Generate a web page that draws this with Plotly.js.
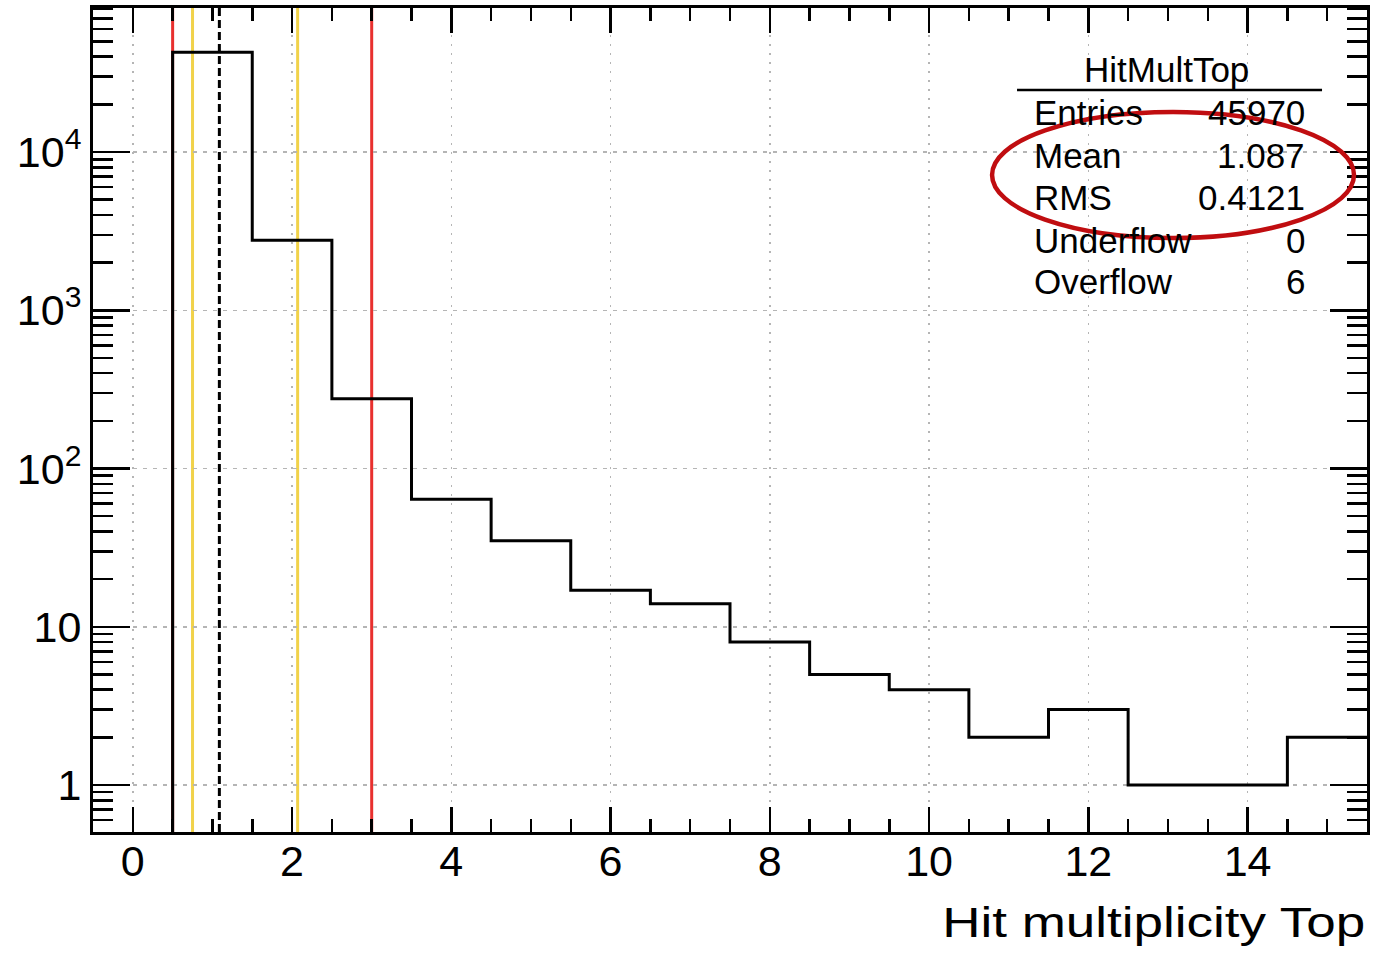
<!DOCTYPE html>
<html>
<head>
<meta charset="utf-8">
<script src="https://cdn.plot.ly/plotly-3.0.1.min.js"></script>
<style>
  html, body { margin: 0; padding: 0; background: #ffffff; }
  #chart { width: 1373px; height: 955px; }
</style>
</head>
<body>
<div id="chart"></div>
<script>
// HitMultTop histogram: bin centres and contents (unit-width bins)
const binCenters = [1, 2, 3, 4, 5, 6, 7, 8, 9, 10, 11, 12, 13, 14, 15];
const binCounts  = [42765, 2770, 276, 64, 35, 17, 14, 8, 5, 4, 2, 3, 1, 1, 2];
const binWidth = 1;

// Statistics box
const statsTitle = "HitMultTop";
const statsLabels = ["Entries", "Mean", "RMS", "Underflow", "Overflow"];
const statsValues = ["45970", "1.087", "0.4121", "0", "6"];

// Vertical marker lines
const redCuts = [0.5, 3.0];
const yellowMarks = [0.75, 2.07];
const meanValue = 1.087;

// Axis ticks
const xTickVals = [0, 2, 4, 6, 8, 10, 12, 14];
const yTickVals = [1, 10, 100, 1000, 10000];
const yTickText = ["1", "10", "10<sup>2</sup>", "10<sup>3</sup>", "10<sup>4</sup>"];
const xTitle = "Hit multiplicity Top";

const FONT = "Liberation Sans, Arial, Helvetica, sans-serif";

// Step outline of the histogram (left edge rises from below the frame)
const stepX = [binCenters[0] - binWidth / 2];
const stepY = [0.01];
binCenters.forEach((c, i) => {
  stepX.push(c - binWidth / 2);
  stepY.push(binCounts[i]);
});
stepX.push(binCenters[binCenters.length - 1] + binWidth / 2);
stepY.push(binCounts[binCounts.length - 1]);

const histTrace = {
  type: "scatter",
  mode: "lines",
  x: stepX,
  y: stepY,
  line: { shape: "hv", color: "#000000", width: 3 },
  hoverinfo: "skip",
  showlegend: false
};

// Minor tick positions
const xMinor = [];
for (let v = -0.5; v <= 15.5; v += 0.5) xMinor.push(v);
const yMinor = [];
for (let e = -1; e <= 4; e++) {
  for (let m = 2; m <= 9; m++) yMinor.push(m * Math.pow(10, e));
}

const shapes = [];
redCuts.forEach(v => shapes.push({
  type: "line", xref: "x", yref: "paper", x0: v, x1: v, y0: 0, y1: 1,
  line: { color: "#e8302e", width: 3 }, layer: "between"
}));
yellowMarks.forEach(v => shapes.push({
  type: "line", xref: "x", yref: "paper", x0: v, x1: v, y0: 0, y1: 1,
  line: { color: "#f1d24a", width: 3 }, layer: "between"
}));
shapes.push({
  type: "line", xref: "x", yref: "paper", x0: meanValue, x1: meanValue, y0: 0, y1: 1,
  line: { color: "#000000", width: 3, dash: "8px,4px" }, layer: "between"
});
// rule under the stats title
shapes.push({
  type: "line", xref: "paper", yref: "paper", x0: 0.7253, x1: 0.9647, y0: 0.9005, y1: 0.9005,
  line: { color: "#000000", width: 2.5 }
});
// highlight ellipse around Mean / RMS
shapes.push({
  type: "circle", xref: "paper", yref: "paper",
  x0: 0.7057, x1: 0.9898, y0: 0.7209, y1: 0.8738,
  line: { color: "#c00d10", width: 4.5 }
});

const STATS_SIZE = 35;
const annotations = [];
annotations.push({
  xref: "paper", yref: "paper", x: 0.843, y: 0.9248, text: statsTitle,
  showarrow: false, xanchor: "center", yanchor: "middle",
  font: { family: FONT, size: STATS_SIZE, color: "#000000" }
});
const rowY = [0.8726, 0.8216, 0.7706, 0.7184, 0.6675];
statsLabels.forEach((lab, i) => {
  annotations.push({
    xref: "paper", yref: "paper", x: 0.737, y: rowY[i], text: lab,
    showarrow: false, xanchor: "left", yanchor: "middle",
    font: { family: FONT, size: STATS_SIZE, color: "#000000" }
  });
  annotations.push({
    xref: "paper", yref: "paper", x: 0.953, y: rowY[i], text: statsValues[i],
    showarrow: false, xanchor: "right", yanchor: "middle",
    font: { family: FONT, size: STATS_SIZE, color: "#000000" }
  });
});
// x-axis title, right-aligned under the frame
const X_TITLE_LEFT = 942, X_TITLE_RIGHT = 1365;
annotations.push({
  xref: "paper", yref: "paper",
  x: ((X_TITLE_LEFT + X_TITLE_RIGHT) / 2 - 93) / 1274, y: -0.1097, text: xTitle,
  showarrow: false, xanchor: "center", yanchor: "middle",
  font: { family: FONT, size: 42, color: "#000000" }
});

const layout = {
  width: 1373,
  height: 955,
  margin: { l: 93, r: 6, t: 8, b: 123 },
  paper_bgcolor: "#ffffff",
  plot_bgcolor: "#ffffff",
  showlegend: false,
  font: { family: FONT, color: "#000000" },
  xaxis: {
    range: [-0.5, 15.5],
    tickmode: "array",
    tickvals: xTickVals,
    ticks: "inside",
    ticklen: 25,
    tickwidth: 2.5,
    tickcolor: "#000000",
    mirror: "ticks",
    showline: true,
    linecolor: "#000000",
    linewidth: 3,
    showgrid: true,
    gridcolor: "#b5b5b5",
    gridwidth: 1.5,
    griddash: "2px,7px",
    zeroline: false,
    ticklabelstandoff: -11,
    tickfont: { family: FONT, size: 43, color: "#000000" },
    minor: {
      tickmode: "array", tickvals: xMinor, ticks: "inside",
      ticklen: 13, tickwidth: 2.5, tickcolor: "#000000", showgrid: false
    }
  },
  yaxis: {
    type: "log",
    range: [-0.297, 4.91],
    tickmode: "array",
    tickvals: yTickVals,
    ticktext: yTickText,
    ticks: "inside",
    ticklen: 37,
    tickwidth: 2.5,
    tickcolor: "#000000",
    mirror: "ticks",
    showline: true,
    linecolor: "#000000",
    linewidth: 3,
    showgrid: true,
    gridcolor: "#b5b5b5",
    gridwidth: 1.5,
    griddash: "4px,6px",
    zeroline: false,
    tickfont: { family: FONT, size: 43, color: "#000000" },
    minor: {
      tickmode: "array", tickvals: yMinor, ticks: "inside",
      ticklen: 20, tickwidth: 2.5, tickcolor: "#000000", showgrid: false
    }
  },
  shapes: shapes,
  annotations: annotations
};

// The axis title is set in a wide face: widen its glyphs to span the label box.
function stretchTitle(gd) {
  gd.querySelectorAll("text.annotation-text").forEach(t => {
    if (t.textContent === xTitle) {
      t.setAttribute("textLength", String(X_TITLE_RIGHT - X_TITLE_LEFT));
      t.setAttribute("lengthAdjust", "spacingAndGlyphs");
    }
  });
}

Plotly.newPlot("chart", [histTrace], layout, { displayModeBar: false, staticPlot: true })
  .then(gd => {
    stretchTitle(gd);
    gd.on("plotly_afterplot", () => stretchTitle(gd));
  });
</script>
</body>
</html>
